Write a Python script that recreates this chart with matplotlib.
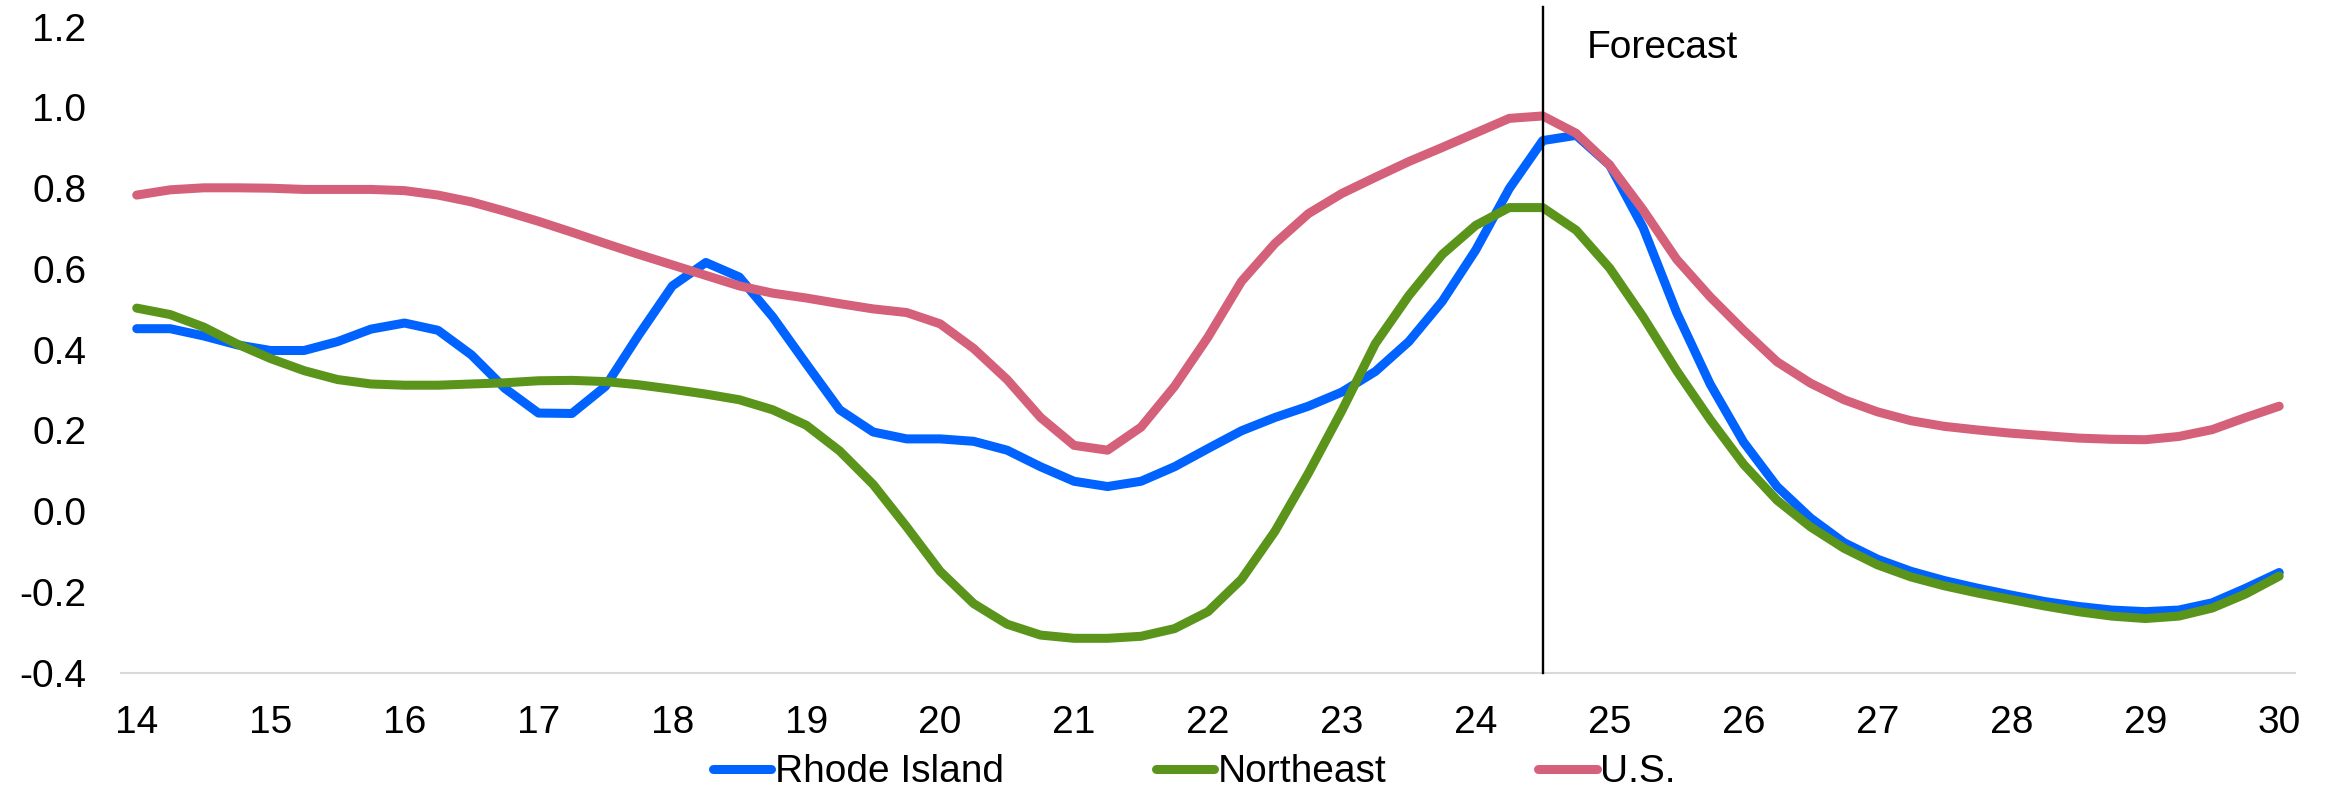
import numpy as np
import matplotlib
matplotlib.use("Agg")
import matplotlib.pyplot as plt

plt.rcParams['font.family'] = ['Liberation Sans', 'DejaVu Sans']

# quarterly points, 2014Q1 .. 2030Q1 (x axis shows 2-digit years)
quarters = 14 + np.arange(65) / 4

rhode_island = [0.452, 0.452, 0.434, 0.412, 0.398, 0.398, 0.420, 0.451, 0.466, 0.448,
                0.387, 0.304, 0.243, 0.242, 0.309, 0.437, 0.558, 0.616, 0.580, 0.481,
                0.365, 0.251, 0.196, 0.179, 0.179, 0.173, 0.151, 0.110, 0.074, 0.061,
                0.074, 0.110, 0.155, 0.199, 0.232, 0.260, 0.295, 0.346, 0.420, 0.520,
                0.647, 0.799, 0.918, 0.931, 0.857, 0.702, 0.492, 0.315, 0.171, 0.061,
                -0.017, -0.078, -0.119, -0.149, -0.172, -0.191, -0.208, -0.224, -0.236, -0.245,
                -0.249, -0.245, -0.227, -0.191, -0.152]

northeast = [0.503, 0.487, 0.456, 0.414, 0.378, 0.348, 0.326, 0.315, 0.312, 0.312,
             0.315, 0.318, 0.323, 0.324, 0.321, 0.313, 0.302, 0.290, 0.276, 0.251,
             0.213, 0.149, 0.066, -0.039, -0.149, -0.229, -0.280, -0.307, -0.315, -0.315,
             -0.310, -0.291, -0.249, -0.169, -0.050, 0.094, 0.249, 0.415, 0.534, 0.636,
             0.708, 0.752, 0.752, 0.696, 0.602, 0.481, 0.348, 0.227, 0.116, 0.027,
             -0.039, -0.092, -0.133, -0.163, -0.185, -0.203, -0.219, -0.235, -0.249, -0.260,
             -0.266, -0.260, -0.240, -0.205, -0.161]

us = [0.783, 0.796, 0.801, 0.801, 0.800, 0.797, 0.797, 0.797, 0.794, 0.783,
      0.766, 0.743, 0.718, 0.691, 0.663, 0.636, 0.610, 0.584, 0.558, 0.540,
      0.528, 0.514, 0.501, 0.492, 0.464, 0.403, 0.326, 0.232, 0.163, 0.151,
      0.208, 0.309, 0.431, 0.569, 0.663, 0.737, 0.787, 0.827, 0.866, 0.901,
      0.937, 0.973, 0.979, 0.936, 0.857, 0.746, 0.624, 0.531, 0.448, 0.370,
      0.317, 0.276, 0.246, 0.224, 0.210, 0.201, 0.193, 0.187, 0.181, 0.178,
      0.177, 0.185, 0.202, 0.232, 0.260]

xticks = list(range(14, 31))
yticks = [-0.4, -0.2, 0.0, 0.2, 0.4, 0.6, 0.8, 1.0, 1.2]
forecast_start = 24.5

fig = plt.figure(figsize=(23.28, 7.96), dpi=100)
ax = fig.add_axes([0.052, 0.155, 0.934, 0.8114])

lw = 6.5
ax.plot(quarters, rhode_island, color='#0062FF', lw=lw, solid_capstyle='round', label='Rhode Island')
ax.plot(quarters, northeast, color='#5B941B', lw=lw, solid_capstyle='round', label='Northeast')
ax.plot(quarters, us, color='#D4607A', lw=lw, solid_capstyle='round', label='U.S.')

ax.axvline(forecast_start, ymin=0, ymax=1.03, color='black', lw=1.7, clip_on=False, zorder=5)
ax.text(24.83, 1.147, 'Forecast', fontsize=28, va='center', ha='left')

ax.set_xlim(13.883, 30.121)
ax.set_ylim(-0.4, 1.2)
ax.set_xticks(xticks)
ax.set_xticklabels([str(t) for t in xticks])
ax.set_yticks(yticks)
ax.set_yticklabels([f'{t:.1f}' for t in yticks])
ax.tick_params(axis='both', length=0, labelsize=28)
ax.tick_params(axis='x', pad=23)
ax.tick_params(axis='y', pad=25)

for side in ['top', 'right', 'left']:
    ax.spines[side].set_visible(False)
ax.spines['bottom'].set_color('#D9D9D9')
ax.spines['bottom'].set_linewidth(1.5)

fig.legend(loc='center', bbox_to_anchor=(0.513, 0.03), ncol=3, frameon=False,
           fontsize=28, handlelength=1.5, handletextpad=0.1, columnspacing=3.9)

fig.savefig('out.png', dpi=100)
